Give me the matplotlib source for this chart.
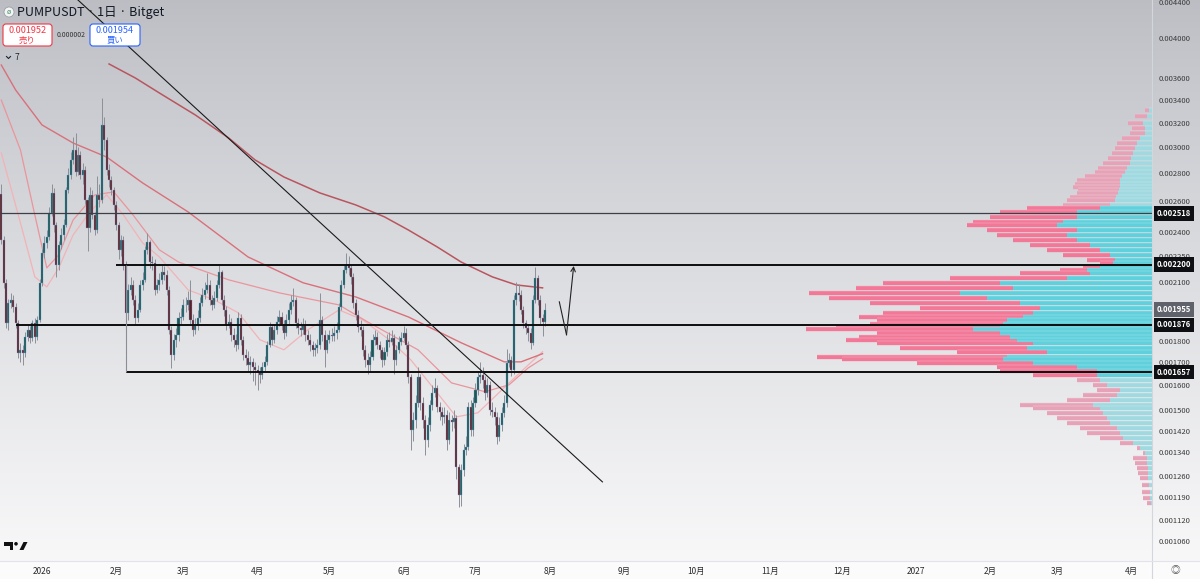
import numpy as np
import matplotlib
matplotlib.use('Agg')
import matplotlib.pyplot as plt
import matplotlib.dates as mdates
from matplotlib.ticker import NullLocator
from matplotlib.transforms import blended_transform_factory
from matplotlib.patches import FancyBboxPatch, Rectangle, Ellipse, Polygon

plt.rcParams['font.family'] = ['Noto Sans CJK JP', 'DejaVu Sans']

# ---- data (prices in units of 1e-6 USDT) ----
first_date = '2025-12-15'
first_open = 2650
closes = [2348, 2097, 1886, 1988, 2004, 1968, 1886, 1743, 1757, 1743,
          1818, 1852, 1814, 1886, 1818, 1901, 2097, 2269, 2330, 2367,
          2521, 2658, 2443, 2198, 2318, 2379, 2443, 2679, 2787, 2899,
          2977, 2809, 2938, 2787, 2824, 2609, 2423, 2644, 2508, 2410,
          2644, 2609, 3180, 3056, 2824, 2750, 2679, 2575, 2443, 2287,
          2348, 2198, 1937, 2058, 2085, 2004, 1911, 1952, 2085, 2113,
          2287, 2336, 2215, 2210, 2058, 2085, 2113, 2158, 2141, 2058,
          1852, 1734, 1804, 1828, 1911, 1916, 1978, 1975, 2004, 1901,
          1852, 1876, 1911, 1988, 2031, 2058, 2085, 2004, 1978, 2015,
          2085, 2158, 2004, 1952, 1876, 1891, 1828, 1804, 1780, 1911,
          1804, 1734, 1720, 1688, 1702, 1680, 1666, 1657, 1644, 1680,
          1702, 1780, 1866, 1804, 1852, 1891, 1916, 1876, 1838, 1901,
          1952, 1994, 2004, 1886, 1862, 1852, 1876, 1828, 1804, 1780,
          1757, 1766, 1780, 1901, 1828, 1757, 1804, 1828, 1823, 1838,
          1852, 1968, 2085, 2169, 2198, 2181, 2130, 1988, 1926, 1866,
          1852, 1757, 1711, 1688, 1725, 1804, 1818, 1780, 1757, 1711,
          1748, 1804, 1795, 1814, 1711, 1757, 1795, 1814, 1838, 1780,
          1636, 1422, 1460, 1528, 1636, 1528, 1460, 1385, 1441, 1520,
          1569, 1589, 1512, 1492, 1472, 1480, 1385, 1460, 1452, 1468,
          1290, 1198, 1280, 1349, 1360, 1512, 1422, 1528, 1581, 1636,
          1644, 1623, 1569, 1602, 1500, 1492, 1472, 1396, 1441, 1488,
          1528, 1698, 1711, 1666, 2004, 2042, 2031, 1952, 1886, 1862,
          1838, 1790, 2004, 2124, 2004, 1911, 1891, 1954]
highs = [2720, 2370, 2120, 2010, 2040, 2030, 1990, 1900, 1790, 1780,
         1840, 1880, 1870, 1900, 1910, 1920, 2120, 2290, 2370, 2410,
         2560, 2720, 2690, 2460, 2340, 2420, 2480, 2700, 2840, 2960,
         3080, 3110, 3000, 2970, 2880, 2850, 2630, 2700, 2680, 2530,
         2780, 2720, 3413, 3250, 3080, 2870, 2780, 2700, 2600, 2460,
         2380, 2370, 2220, 2090, 2130, 2110, 2030, 1990, 2110, 2160,
         2310, 2392, 2350, 2250, 2230, 2120, 2150, 2200, 2190, 2170,
         2080, 1870, 1830, 1860, 1940, 1960, 2010, 2020, 2050, 2113,
         1930, 1910, 1950, 2020, 2070, 2100, 2150, 2110, 2030, 2050,
         2110, 2200, 2170, 2030, 1970, 1930, 1910, 1860, 1830, 1940,
         1930, 1820, 1760, 1750, 1730, 1720, 1700, 1690, 1680, 1700,
         1730, 1800, 1890, 1880, 1880, 1920, 1950, 1940, 1900, 1930,
         1990, 2030, 2070, 2020, 1910, 1890, 1910, 1900, 1850, 1830,
         1800, 1790, 1810, 2042, 1920, 1850, 1830, 1850, 1860, 1870,
         1890, 1990, 2110, 2200, 2269, 2250, 2200, 2150, 2010, 1950,
         1900, 1870, 1780, 1740, 1750, 1830, 1850, 1840, 1800, 1770,
         1770, 1830, 1840, 1850, 1830, 1780, 1820, 1840, 1870, 1860,
         1800, 1650, 1490, 1560, 1680, 1650, 1550, 1480, 1470, 1540,
         1600, 1630, 1600, 1530, 1510, 1510, 1500, 1490, 1480, 1500,
         1480, 1300, 1300, 1370, 1400, 1530, 1540, 1550, 1610, 1660,
         1700, 1680, 1640, 1630, 1620, 1530, 1510, 1490, 1470, 1510,
         1560, 1760, 1740, 1730, 2030, 2100, 2090, 2060, 1970, 1900,
         1880, 1860, 2030, 2186, 2140, 2030, 1930, 1990]
lows = [2320, 2070, 1860, 1850, 1960, 1940, 1860, 1720, 1700, 1690,
        1725, 1800, 1790, 1800, 1790, 1805, 1890, 2080, 2240, 2300,
        2350, 2500, 2400, 2130, 2170, 2290, 2350, 2430, 2660, 2760,
        2870, 2780, 2790, 2760, 2720, 2580, 2280, 2400, 2480, 2380,
        2390, 2560, 2590, 2980, 2790, 2700, 2640, 2540, 2410, 2230,
        2250, 2170, 1850, 1900, 2030, 1980, 1880, 1890, 1940, 2060,
        2100, 2260, 2180, 2170, 2030, 2040, 2060, 2090, 2110, 2030,
        1830, 1675, 1710, 1770, 1800, 1880, 1900, 1940, 1950, 1880,
        1820, 1830, 1850, 1890, 1970, 2010, 2040, 1980, 1950, 1960,
        2000, 2070, 1980, 1920, 1850, 1860, 1800, 1770, 1750, 1760,
        1780, 1710, 1690, 1660, 1650, 1620, 1600, 1581, 1610, 1625,
        1660, 1690, 1770, 1780, 1790, 1830, 1870, 1850, 1810, 1820,
        1880, 1930, 1970, 1860, 1830, 1820, 1830, 1800, 1780, 1750,
        1730, 1730, 1740, 1760, 1800, 1680, 1740, 1790, 1800, 1800,
        1810, 1840, 1950, 2070, 2150, 2140, 2090, 1960, 1900, 1840,
        1820, 1730, 1680, 1650, 1660, 1710, 1780, 1760, 1720, 1680,
        1690, 1730, 1770, 1780, 1650, 1690, 1740, 1780, 1800, 1760,
        1610, 1349, 1380, 1430, 1510, 1500, 1430, 1330, 1360, 1420,
        1500, 1550, 1490, 1460, 1440, 1450, 1350, 1370, 1420, 1430,
        1250, 1162, 1165, 1260, 1330, 1350, 1400, 1400, 1510, 1560,
        1610, 1590, 1540, 1550, 1480, 1470, 1440, 1370, 1380, 1420,
        1470, 1510, 1680, 1640, 1650, 1980, 2000, 1930, 1860, 1830,
        1800, 1760, 1780, 1990, 1980, 1880, 1820, 1870]

# moving averages, read at sampled candle indices
ma200_idx = [45, 56, 66, 81, 95, 106, 118, 133, 148, 160, 170, 182, 192, 205, 215, 226]
ma200_val = [3735, 3599, 3460, 3265, 3072, 2899, 2772, 2658, 2575, 2495, 2410, 2305, 2215, 2130, 2085, 2069]
ma100_idx = [0, 6, 17, 30, 44, 59, 78, 103, 126, 148, 170, 192, 210, 217, 226]
ma100_val = [3725, 3487, 3180, 3032, 2922, 2729, 2528, 2245, 2097, 2020, 1916, 1790, 1702, 1702, 1739]
ma50_idx = [0, 8, 14, 19, 24, 30, 39, 47, 55, 66, 74, 95, 116, 141, 153, 174, 188, 202, 212, 220, 226]
ma50_val = [3396, 2977, 2508, 2181, 2257, 2475, 2644, 2665, 2508, 2287, 2215, 2113, 2042, 1978, 1891, 1757,
            1610, 1573, 1602, 1675, 1716]
ma20_idx = [0, 8, 14, 19, 24, 30, 37, 44, 51, 59, 66, 78, 89, 99, 108, 118, 128, 141, 151, 162, 171, 181,
            190, 199, 206, 212, 220, 226]
ma20_val = [2954, 2456, 2130, 2074, 2181, 2379, 2528, 2644, 2508, 2330, 2245, 2058, 2004, 1937, 1804, 1757,
            1852, 1952, 1901, 1804, 1711, 1581, 1472, 1488, 1552, 1610, 1688, 1748]

# drawn levels
level_prices = [2518, 2200, 1876, 1657]
level_starts = ['2025-12-14', '2026-02-01', '2025-12-21', '2026-02-05']
trend_dates = ['2026-01-16', '2026-08-23']
trend_prices = [4422, 1240]
arrow_dates = ['2026-08-05', '2026-08-08', '2026-08-11']
arrow_prices = [1994, 1828, 2192]

# volume profile rows
vp_price = [3308, 3256, 3197, 3155, 3113, 3072, 3032, 2993, 2954, 2915,
            2877, 2839, 2809, 2780, 2750, 2722, 2700, 2679, 2658, 2630,
            2609, 2575, 2555, 2528, 2495, 2462, 2443, 2410, 2379, 2348,
            2318, 2287, 2257, 2227, 2210, 2186, 2169, 2152, 2124, 2097,
            2069, 2042, 2015, 1988, 1962, 1937, 1916, 1901, 1881, 1866,
            1857, 1838, 1818, 1804, 1790, 1766, 1748, 1725, 1716, 1698,
            1680, 1662, 1644, 1623, 1602, 1581, 1560, 1540, 1520, 1508,
            1488, 1468, 1449, 1430, 1411, 1392, 1374, 1356, 1339, 1321,
            1304, 1287, 1270, 1254, 1231, 1208, 1189, 1174]
vp_total = [7, 17, 24, 20, 22, 30, 35, 37, 40, 44,
            49, 54, 57, 67, 75, 77, 79, 74, 75, 82,
            85, 89, 125, 152, 162, 179, 185, 165, 155, 139,
            122, 105, 89, 65, 52, 69, 92, 132, 202, 269,
            295, 342, 322, 282, 232, 269, 292, 275, 282, 315,
            345, 275, 292, 305, 275, 252, 195, 334, 309, 235,
            155, 152, 119, 75, 59, 55, 69, 85, 132, 119,
            105, 95, 85, 72, 65, 52, 32, 15, 9, 19,
            17, 15, 14, 12, 10, 10, 9, 5]
vp_up = [3, 5, 9, 7, 7, 12, 15, 17, 19, 21,
         22, 25, 27, 30, 32, 32, 32, 33, 34, 36,
         37, 42, 52, 75, 75, 89, 95, 75, 85, 75,
         62, 52, 42, 37, 39, 52, 65, 62, 85, 152,
         139, 192, 165, 132, 112, 119, 129, 145, 149, 152,
         179, 152, 142, 135, 119, 125, 105, 145, 149, 119,
         75, 55, 55, 52, 45, 32, 35, 42, 59, 52,
         49, 45, 42, 35, 32, 29, 19, 12, 7, 5,
         5, 4, 4, 4, 3, 2, 2, 1]
va_low, va_high = 1640, 2560

month_ticks = ['2026-01-01', '2026-02-01', '2026-03-01', '2026-04-01', '2026-05-01', '2026-06-01',
               '2026-07-01', '2026-08-01', '2026-09-01', '2026-10-01', '2026-11-01', '2026-12-01',
               '2027-01-01', '2027-02-01', '2027-03-01', '2027-04-01']
month_labels = ['2026', '2月', '3月', '4月', '5月', '6月', '7月', '8月', '9月', '10月', '11月', '12月',
                '2027', '2月', '3月', '4月']
price_ticks = [4400, 4000, 3600, 3400, 3200, 3000, 2800, 2600, 2400, 2250, 2100,
               1800, 1700, 1600, 1500, 1420, 1340, 1260, 1190, 1120, 1060]

U = 1e-6
W, H = 1200, 579

def d2n(s):
    return mdates.date2num(np.datetime64(s))

fig = plt.figure(figsize=(12, 5.79), dpi=100)

# background gradient (pixel coords)
bg = fig.add_axes([0, 0, 1, 1], zorder=-10)
bg.set_xlim(0, W)
bg.set_ylim(H, 0)
bg.axis('off')
top = np.array([0.735, 0.743, 0.768])
bot = np.array([0.972, 0.972, 0.976])
t = np.linspace(0, 1, 300)[:, None, None]
grad = top + (bot - top) * t ** 0.85
bg.imshow(grad, extent=[0, W, 561, 0], aspect='auto')
bg.add_patch(Rectangle((0, 561), W, 18, color='#fbfbfc', lw=0))

# main chart
ax = fig.add_axes([0, 18 / H, 1152 / W, 561 / H])
ax.set_facecolor('none')
for s in ax.spines.values():
    s.set_visible(False)
ax.set_yscale('log')

c = np.array(closes) * U
o = np.array([first_open] + closes[:-1]) * U
hi = np.array(highs) * U
lo = np.array(lows) * U
dates = d2n(first_date) + np.arange(len(closes))
up = c >= o

bull, bear = '#1d5852', '#5a2329'
ax.vlines(dates, lo, hi, color='#8b9099', lw=0.7, zorder=3)
ax.bar(dates[up], (c - o)[up], bottom=o[up], width=0.85, color=bull,
       edgecolor='#6f9fd8', lw=0.25, zorder=4)
ax.bar(dates[~up], (o - c)[~up], bottom=c[~up], width=0.85, color=bear,
       edgecolor='#8e9fd0', lw=0.25, zorder=4)

d0 = d2n(first_date)
ax.plot(d0 + np.array(ma20_idx), np.array(ma20_val) * U, color='#f2b3b7', lw=0.9, zorder=2)
ax.plot(d0 + np.array(ma50_idx), np.array(ma50_val) * U, color='#ea959c', lw=0.9, zorder=2)
ax.plot(d0 + np.array(ma100_idx), np.array(ma100_val) * U, color='#d9707a', lw=1.0, zorder=2)
ax.plot(d0 + np.array(ma200_idx), np.array(ma200_val) * U, color='#b9555e', lw=1.1, zorder=2)

base = d2n('2026-01-01')
x_left = base - 42 / 2.395
x_right = base + 1110 / 2.395

# volume profile, anchored to right edge, 30% of width
vmax = max(vp_total)
trans = blended_transform_factory(ax.transAxes, ax.transData)
vp_p = np.array(vp_price) * U
x_tot = 1 - 0.3 * np.array(vp_total) / vmax
x_up = 1 - 0.3 * np.array(vp_up) / vmax
inside = (np.array(vp_price) >= va_low) & (np.array(vp_price) <= va_high)
pink = np.where(inside, '#f27898', '#e6a3b8')
cyan = np.where(inside, '#5fd0dc', '#a0d9e0')
ax.hlines(vp_p, x_tot, x_up, colors=list(pink), lw=3.1, transform=trans, zorder=1)
ax.hlines(vp_p, x_up, 1.0, colors=list(cyan), lw=3.1, transform=trans, zorder=1)
# thin row separators like the profile's row grid
ax.hlines(vp_p * 1.0045, x_tot, 1.0, colors='white', lw=0.35, alpha=0.45, transform=trans, zorder=1)

# levels
for p, st in zip(level_prices, level_starts):
    if p == 2518:
        ax.hlines(p * U, d2n(st), x_right, color='#3c3f46', lw=0.9, zorder=5)
    else:
        ax.hlines(p * U, d2n(st), x_right, color='#0d0d0d', lw=1.4, zorder=5)
ax.vlines(d2n(level_starts[3]), level_prices[3] * U, level_prices[1] * U, color='#8a8d94', lw=0.8, zorder=5)

# trend line
ax.plot([d2n(s) for s in trend_dates], np.array(trend_prices) * U, color='#1a1a1a', lw=0.8, zorder=5)

# projection arrow
ad = [d2n(s) for s in arrow_dates]
ap = np.array(arrow_prices) * U
ax.plot(ad[:2], ap[:2], color='#222222', lw=0.8, zorder=6)
ax.annotate('', xy=(ad[2], ap[2]), xytext=(ad[1], ap[1]),
            arrowprops=dict(arrowstyle='->', color='#222222', lw=0.8,
                            shrinkA=0, shrinkB=0, mutation_scale=8), zorder=6)

ax.set_xlim(x_left, x_right)
ax.set_ylim(0.0010064, 0.0044218)

# axes ticks
ax.yaxis.tick_right()
ax.set_yticks(np.array(price_ticks) * U)
ax.set_yticklabels([f'{p * U:.6f}' for p in price_ticks])
ax.yaxis.set_minor_locator(NullLocator())
ax.tick_params(axis='y', which='both', length=0, pad=4.5, labelsize=5.5, labelcolor='#3a3a3a')
ax.set_xticks([d2n(s) for s in month_ticks])
ax.set_xticklabels(month_labels)
ax.tick_params(axis='x', length=0, pad=4, labelsize=6, labelcolor='#2a2a2a')

# price tags on the scale
tag_trans = blended_transform_factory(ax.transAxes, ax.transData)
for p in level_prices:
    ax.text(1 + 22 / 1152, p * U, f'{p * U:.6f}', transform=tag_trans, ha='center', va='center',
            fontsize=5.5, color='white', fontweight='bold', clip_on=False, zorder=20,
            bbox=dict(boxstyle='square,pad=0.35', fc='#0e0f12', ec='none'))
ax.text(1 + 22 / 1152, c[-1] + 0.000001, '0.001955', transform=tag_trans, ha='center', va='center',
        fontsize=5.5, color='white', fontweight='bold', clip_on=False, zorder=20,
        bbox=dict(boxstyle='square,pad=0.35', fc='#5f626b', ec='none'))

# overlay (pixel coords) for chrome
ov = fig.add_axes([0, 0, 1, 1], zorder=10)
ov.set_xlim(0, W)
ov.set_ylim(H, 0)
ov.axis('off')
ov.plot([1152, 1152], [0, 579], color='#d3d6dc', lw=0.8)
ov.plot([0, W], [561, 561], color='#e1e3e8', lw=0.8)

ov.add_patch(Ellipse((9, 12), 10, 10, fc='#f4f4f4', ec='#9aa0a6', lw=0.6))
ov.text(9, 12, 'ø', fontsize=5, color='#3b8f6b', ha='center', va='center')
ov.text(17, 12.5, 'PUMPUSDT · 1日 · Bitget', fontsize=9, color='#131722', va='center')

ov.add_patch(FancyBboxPatch((3, 24), 49, 22, boxstyle='round,pad=0,rounding_size=3',
                            fc='white', ec='#f23645', lw=0.8))
ov.text(27.5, 30.5, '0.001952', fontsize=6.5, color='#f23645', ha='center', va='center')
ov.text(27.5, 40.5, '売り', fontsize=6, color='#f23645', ha='center', va='center')
ov.text(71, 35, '0.000002', fontsize=5, color='#333333', ha='center', va='center')
ov.add_patch(FancyBboxPatch((90, 24), 50, 22, boxstyle='round,pad=0,rounding_size=3',
                            fc='white', ec='#2962ff', lw=0.8))
ov.text(115, 30.5, '0.001954', fontsize=6.5, color='#2962ff', ha='center', va='center')
ov.text(115, 40.5, '買い', fontsize=6, color='#2962ff', ha='center', va='center')
ov.add_patch(FancyBboxPatch((3, 52), 20, 11, boxstyle='round,pad=0,rounding_size=2',
                            fc='#c3c6cc', ec='none'))
ov.plot([6.5, 8.5, 10.5], [56.5, 58.5, 56.5], color='#222222', lw=0.8)
ov.text(16.5, 57.5, '7', fontsize=6, color='#222222', ha='center', va='center')

# TradingView logo
ov.add_patch(Polygon([(4, 542), (13, 542), (13, 550), (9.5, 550), (9.5, 545.5), (4, 545.5)],
                     closed=True, fc='#111111', ec='none'))
ov.add_patch(Ellipse((16, 543.8), 3.6, 3.6, fc='#111111', ec='none'))
ov.add_patch(Polygon([(19.5, 550), (23.5, 542), (27.5, 542), (23.5, 550)], closed=True,
                     fc='#111111', ec='none'))
ov.text(1175, 569.5, '◎', fontsize=7, color='#555555', ha='center', va='center')

fig.savefig('out.png', dpi=100)
